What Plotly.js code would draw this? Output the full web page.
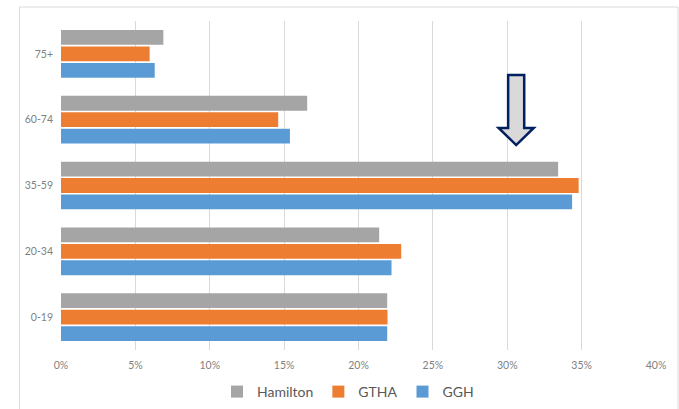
<!DOCTYPE html>
<html>
<head>
<meta charset="utf-8">
<script src="https://cdn.plot.ly/plotly-3.0.1.min.js"></script>
<style>html,body{margin:0;padding:0;background:#fff;}#chart{width:679px;height:409px;}</style>
</head>
<body>
<div id="chart"></div>
<script>
const categories = ['0-19', '20-34', '35-59', '60-74', '75+'];
const ggh      = [0.2193, 0.2222, 0.3436, 0.1539, 0.0630];
const gtha     = [0.2195, 0.2287, 0.3480, 0.1460, 0.0596];
const hamilton = [0.2193, 0.2139, 0.3342, 0.1655, 0.0688];
const xTickVals = [0, 0.05, 0.10, 0.15, 0.20, 0.25, 0.30, 0.35, 0.40];
const xTickText = ['0%', '5%', '10%', '15%', '20%', '25%', '30%', '35%', '40%'];

const W = 679, H = 409;
const M = {l: 61, r: 23, t: 21, b: 59, autoexpand: false};
const FONT = 'Lato, "Open Sans", "Liberation Sans", sans-serif';

const traces = [
  {name: 'GGH', y: categories, x: ggh, color: '#5b9bd5'},
  {name: 'GTHA', y: categories, x: gtha, color: '#ed7d31'},
  {name: 'Hamilton', y: categories, x: hamilton, color: '#a5a5a5'}
].map(s => ({
  type: 'bar', orientation: 'h', name: s.name, x: s.x, y: s.y,
  marker: {color: s.color, line: {width: 0}},
  hoverinfo: 'none'
}));

// arrow annotation (x in data units, y in paper units)
const ax = 0.306, hw = 0.0054, hh = 0.0118;
const yTop = 0.836, yHead = 0.675, yTip = 0.623;
const arrowPath = `M ${ax-hw} ${yTop} L ${ax+hw} ${yTop} L ${ax+hw} ${yHead} L ${ax+hh} ${yHead} L ${ax} ${yTip} L ${ax-hh} ${yHead} L ${ax-hw} ${yHead} Z`;

const pw = W - M.l - M.r, ph = H - M.t - M.b;
const px = v => (v - M.l) / pw;
const py = v => (H - M.b - v) / ph;

const layout = {
  width: W, height: H,
  margin: M,
  paper_bgcolor: '#ffffff', plot_bgcolor: '#ffffff',
  font: {family: FONT, color: '#7f7f7f', size: 10},
  barmode: 'group', bargap: 0.25, bargroupgap: 0.1,
  showlegend: true,
  legend: {
    orientation: 'h', traceorder: 'reversed',
    x: px(348), xanchor: 'center', y: py(392), yanchor: 'middle',
    font: {family: FONT, size: 14, color: '#595959'},
    itemwidth: 30, itemclick: false, tracegroupgap: 0
  },
  xaxis: {
    range: [0, 0.4], tickvals: xTickVals, ticktext: xTickText,
    showgrid: true, gridcolor: '#d9d9d9', gridwidth: 1,
    zeroline: false, showline: false, ticks: '',
    tickfont: {family: FONT, size: 10.5, color: '#7f7f7f'},
    ticklabelstandoff: 7,
    fixedrange: true
  },
  yaxis: {
    type: 'category', categoryorder: 'array', categoryarray: categories,
    showgrid: false, zeroline: false, showline: false, ticks: '',
    tickfont: {family: FONT, size: 10.5, color: '#7f7f7f'},
    ticklabelstandoff: 7,
    fixedrange: true
  },
  shapes: [
    {type: 'rect', xref: 'paper', yref: 'paper',
     x0: px(19.5), x1: px(678), y0: py(7), y1: py(415),
     line: {color: '#d9d9d9', width: 1}, fillcolor: 'rgba(0,0,0,0)', layer: 'below'},
    {type: 'path', xref: 'x', yref: 'paper', path: arrowPath,
     fillcolor: '#d9d9d9', line: {color: '#002060', width: 2.5}}
  ]
};

Plotly.newPlot('chart', traces, layout, {displayModeBar: false, staticPlot: true});
</script>
</body>
</html>
